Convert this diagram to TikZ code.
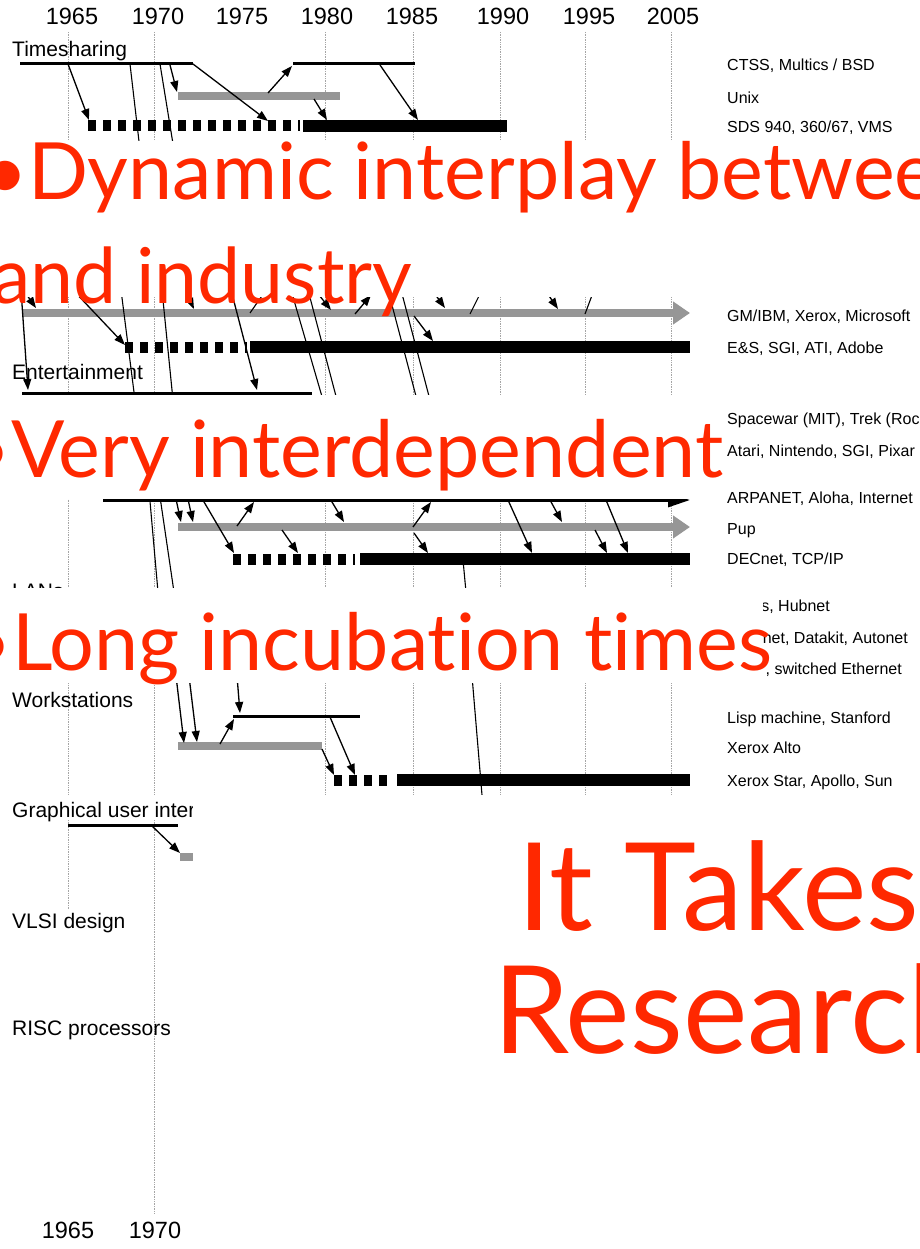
\documentclass[tikz,border=0pt]{standalone}
\usepackage{fontspec}
\setmainfont{Liberation Sans}
\newfontfamily\slidefont[Ligatures={NoCommon}]{Lato}
\usetikzlibrary{arrows.meta}
\definecolor{barGray}{RGB}{150,150,150}
\definecolor{gridGray}{RGB}{165,165,165}
\definecolor{slideRed}{RGB}{255,40,0}
\tikzstyle{yearline} = [gridGray, line width=0.7pt, densely dotted]
\tikzstyle{research} = [line width=3pt]
\tikzstyle{gestation} = [line width=11pt, dash pattern=on 8pt off 7pt]
\tikzstyle{industry} = [line width=12pt]
\tikzstyle{product} = [line width=8pt, barGray]
\tikzstyle{bigsale} = [product, -{Triangle[length=17pt,width=22pt]}]
\tikzstyle{arrow} = [line width=1.3pt, -{Triangle[length=11pt,width=8pt]}]
\tikzstyle{thinline} = [line width=1.1pt]
\tikzstyle{rowname} = [inner sep=0, anchor=base west, font=\fontsize{21}{24}\selectfont]
\tikzstyle{firmname} = [inner sep=0, anchor=base west, font=\fontsize{16}{19}\selectfont]
\tikzstyle{yearlab} = [inner sep=0, anchor=base, font=\fontsize{23.5}{26}\selectfont]
\tikzstyle{slidetext} = [inner sep=0, anchor=base west, slideRed, font=\slidefont\fontsize{79}{81}\selectfont]
\tikzstyle{bigtext} = [slidetext, font=\slidefont\fontsize{122}{126}\selectfont]
\tikzstyle{mask} = [fill=white]

\begin{document}
\begin{tikzpicture}[x=1pt, y=-1pt]
    \useasboundingbox (0,0) rectangle (920,1249);
    \clip (0,0) rectangle (920,1249);

    % Years and grid
    \foreach \yr/\x in {1965/72, 1970/158, 1975/242, 1980/327, 1985/412, 1990/503, 1995/589, 2005/673}
        \node[yearlab] (y\yr) at (\x,25) {\yr};
    \foreach \x in {68,154,325,413,500,585,671}
        \draw[yearline] (\x,32) -- (\x,795);
    \draw[yearline] (68,820) -- (68,910);
    \draw[yearline] (154,820) -- (154,1213);
    \node[yearlab] (b1965) at (68,1238) {1965};
    \node[yearlab] (b1970) at (155,1238) {1970};

    % Timesharing
    \node[rowname] (ts) at (12,57) {Timesharing};
    \draw[research] (20,64) -- (193,64);
    \draw[research] (293,64) -- (415,64);
    \draw[product] (178,96) -- (340,96);
    \draw[gestation] (88,126) -- (300,126);
    \draw[industry] (303,126) -- (507,126);
    \draw[arrow] (68,64) -- (89,120);
    \draw[thinline] (130,64) -- (140,150);
    \draw[thinline] (160,64) -- (174,150);
    \draw[arrow] (170,65) -- (177,92);
    \draw[arrow] (193,64) -- (268,121);
    \draw[arrow] (268,93) -- (292,66);
    \draw[arrow] (314,99) -- (327,120);
    \draw[arrow] (380,65) -- (418,120);
    \node[firmname] (ctss) at (727,71) {CTSS, Multics / BSD};
    \node[firmname] (unix) at (727,104) {Unix};
    \node[firmname] (sds) at (727,133) {SDS 940, 360/67, VMS};

    % Graphics and Entertainment
    \draw[bigsale] (22,313) -- (690,313);
    \draw[gestation] (125,347) -- (247,347);
    \draw[industry] (250,347) -- (690,347);
    \draw[arrow] (22,288) -- (36,308);
    \draw[arrow] (21,290) -- (28,390);
    \draw[arrow] (73,290) -- (125,345);
    \draw[thinline] (121,290) -- (135,400);
    \draw[thinline] (162,290) -- (173,400);
    \draw[arrow] (185,290) -- (194,309);
    \draw[arrow] (231,290) -- (257,390);
    \draw[thinline] (250,313) -- (266,290);
    \draw[arrow] (315,290) -- (331,310);
    \draw[thinline] (291,290) -- (323,400);
    \draw[thinline] (308,290) -- (337,400);
    \draw[arrow] (355,314) -- (371,295);
    \draw[thinline] (388,290) -- (417,400);
    \draw[thinline] (401,290) -- (430,400);
    \draw[arrow] (414,316) -- (433,341);
    \draw[arrow] (432,290) -- (445,308);
    \draw[thinline] (470,314) -- (482,290);
    \draw[arrow] (545,290) -- (558,309);
    \draw[thinline] (585,314) -- (594,290);
    \node[rowname] (ent) at (12,379) {Entertainment};
    \draw[research] (22,393) -- (312,393);
    \node[firmname] (gm) at (727,321) {GM/IBM, Xerox, Microsoft};
    \node[firmname] (es) at (727,353) {E\&S, SGI, ATI, Adobe};
    \node[firmname] (spw) at (727,424) {Spacewar (MIT), Trek (Rochester)};
    \node[firmname] (atari) at (727,456) {Atari, Nintendo, SGI, Pixar};

    % Internet
    \draw[research, -{Triangle[length=22pt,width=14pt]}] (103,500) -- (690,500);
    \draw[bigsale] (178,527) -- (690,527);
    \draw[gestation] (233,559) -- (355,559);
    \draw[industry] (360,559) -- (690,559);
    \draw[thinline] (149,490) -- (158,592);
    \draw[thinline] (159,490) -- (174,592);
    \draw[arrow] (174,490) -- (181,522);
    \draw[arrow] (186,490) -- (193,522);
    \draw[arrow] (197,490) -- (234,553);
    \draw[arrow] (237,526) -- (254,502);
    \draw[arrow] (282,530) -- (298,553);
    \draw[arrow] (326,492) -- (344,522);
    \draw[arrow] (413,527) -- (431,502);
    \draw[arrow] (414,533) -- (428,553);
    \draw[arrow] (508,500) -- (532,553);
    \draw[arrow] (550,500) -- (562,522);
    \draw[arrow] (595,530) -- (607,553);
    \draw[arrow] (606,500) -- (628,553);
    \draw[thinline] (463,560) -- (466,592);
    \node[firmname] (arpa) at (727,503) {ARPANET, Aloha, Internet};
    \node[firmname] (pup) at (727,534) {Pup};
    \node[firmname] (dec) at (727,564) {DECnet, TCP/IP};

    % LANs
    \node[rowname] (lans) at (12,598) {LANs};
    \node[firmname, anchor=base east] (hub) at (830,611) {s, Hubnet};
    \node[firmname, anchor=base east] (dkit) at (908,643) {net, Datakit, Autonet};
    \node[firmname, anchor=base east] (swe) at (902,674) {, switched Ethernet};

    % Workstations
    \node[rowname] (ws) at (12,707) {Workstations};
    \draw[research] (233,716) -- (360,716);
    \draw[product] (178,746) -- (322,746);
    \draw[gestation] (334,780) -- (392,780);
    \draw[industry] (397,780) -- (690,780);
    \draw[arrow] (176,676) -- (184,743);
    \draw[arrow] (189,676) -- (197,742);
    \draw[arrow] (237,676) -- (240,713);
    \draw[arrow] (220,744) -- (234,719);
    \draw[arrow] (322,749) -- (334,775);
    \draw[arrow] (330,717) -- (355,775);
    \draw[thinline] (472,676) -- (482,795);
    \node[firmname] (lisp) at (727,723) {Lisp machine, Stanford};
    \node[firmname] (alto) at (727,753) {Xerox Alto};
    \node[firmname] (star) at (727,786) {Xerox Star, Apollo, Sun};

    % GUI, VLSI, RISC
    \node[rowname] (gui) at (12,817) {Graphical user interface};
    \draw[research] (68,825) -- (178,825);
    \draw[arrow] (152,826) -- (180,853);
    \draw[product] (180,857) -- (200,857);
    \node[rowname] (vlsi) at (12,928) {VLSI design};
    \node[rowname] (risc) at (12,1035) {RISC processors};

    % Slide text over the chart
    \fill[mask] (0,141) rectangle (920,297);
    \fill[mask] (0,395) rectangle (722,498.5);
    \fill[mask] (0,588) rectangle (763,683);
    \fill[mask] (193,795) rectangle (920,1249);
    \node[slidetext] (dyn) at (-18,200) {•Dynamic interplay between};
    \node[slidetext, font=\slidefont\fontsize{77}{79}\selectfont] (ind) at (-8,303) {and industry};
    \node[slidetext] (dep) at (-35,477) {•Very interdependent};
    \node[slidetext] (inc) at (-34,670) {•Long incubation times};
    \node[bigtext] (takes) at (517,930) {It Takes};
    \node[bigtext] (res) at (493,1053) {Research};
\end{tikzpicture}
\end{document}
